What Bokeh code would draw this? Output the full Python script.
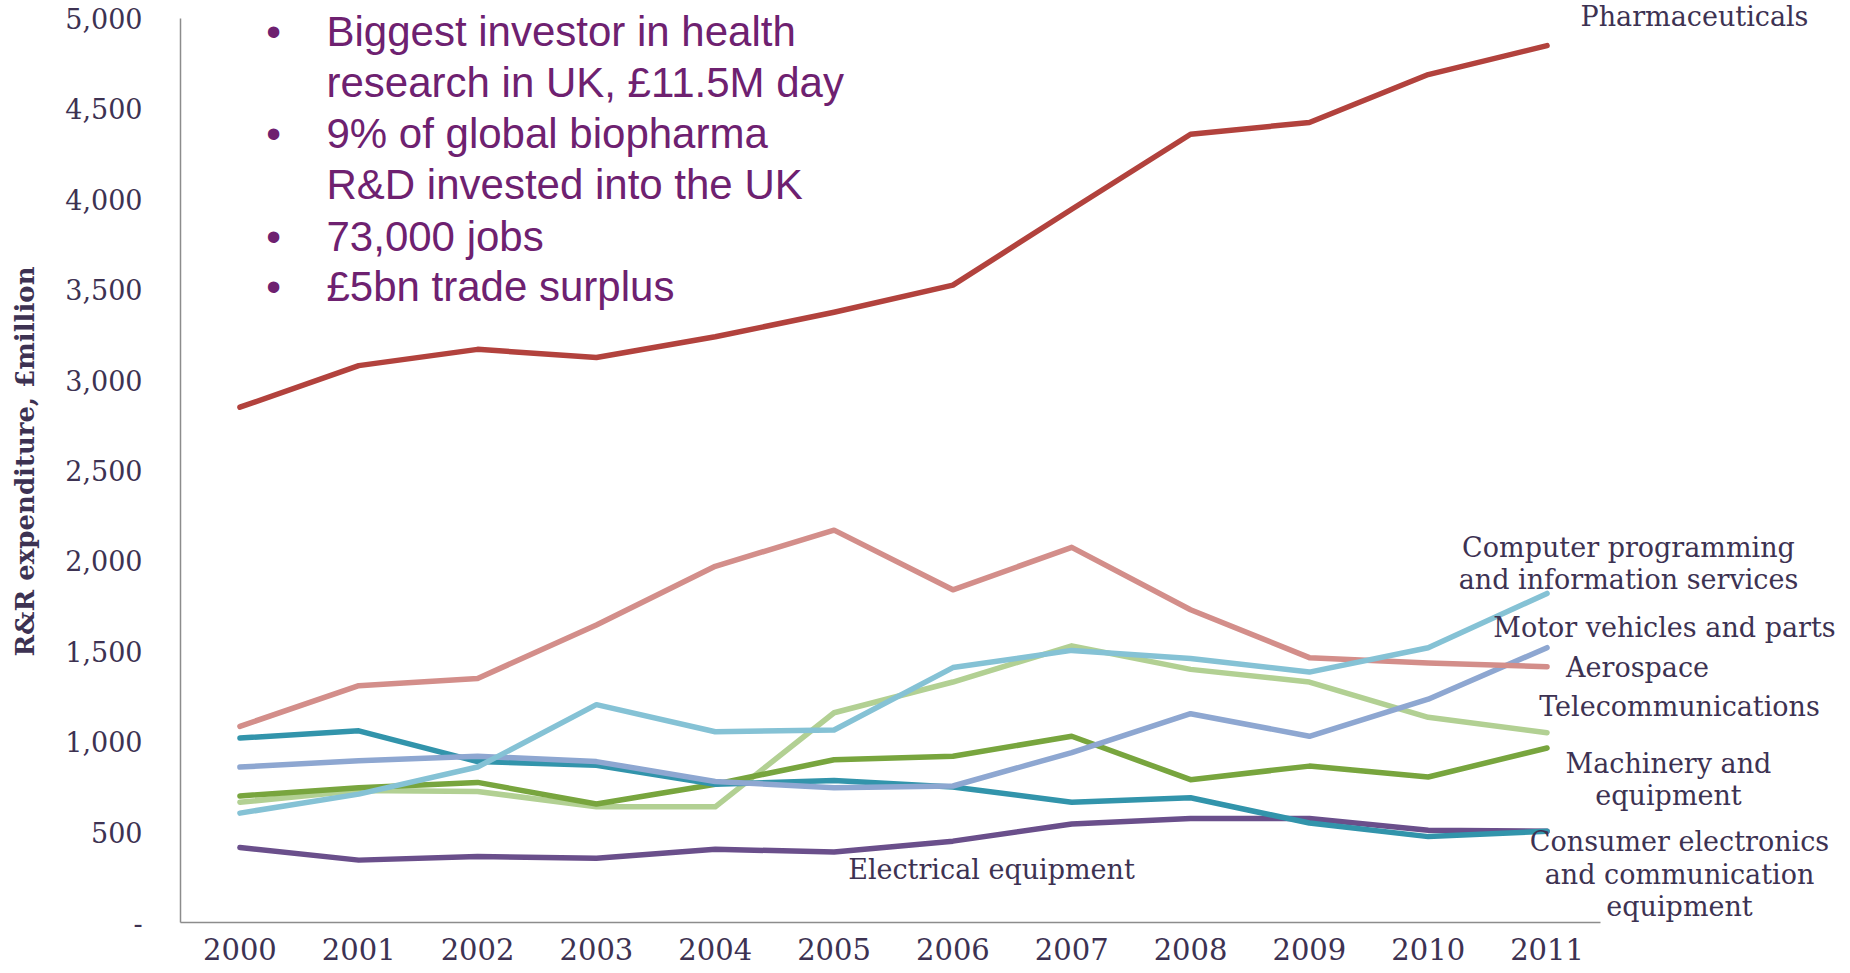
from bokeh.plotting import figure
from bokeh.models import Range1d, FixedTicker, Label
from bokeh.embed import file_html
from bokeh.resources import INLINE

# ---------------- data ----------------
years = list(range(2000, 2012))

pharmaceuticals = [2850, 3080, 3170, 3125, 3240, 3375, 3525, 3945, 4360, 4425, 4690, 4850]
aerospace       = [1085, 1310, 1350, 1645, 1970, 2170, 1840, 2075, 1730, 1465, 1435, 1415]
computer_prog   = [605, 710, 860, 1205, 1055, 1065, 1410, 1505, 1460, 1385, 1520, 1820]
motor_vehicles  = [860, 895, 920, 890, 780, 745, 755, 940, 1155, 1030, 1235, 1520]
telecoms        = [665, 730, 725, 640, 640, 1160, 1330, 1530, 1400, 1330, 1135, 1050]
machinery       = [700, 745, 775, 655, 765, 900, 920, 1030, 790, 865, 805, 965]
consumer_elec   = [1020, 1060, 890, 870, 765, 785, 750, 665, 690, 550, 475, 505]
electrical      = [415, 345, 365, 355, 405, 390, 450, 545, 575, 575, 510, 505]

y_tick_values = [0, 500, 1000, 1500, 2000, 2500, 3000, 3500, 4000, 4500, 5000]
y_tick_labels = ["-", "500", "1,000", "1,500", "2,000", "2,500", "3,000",
                 "3,500", "4,000", "4,500", "5,000"]
x_tick_labels = [str(y) for y in years]

bullet_lines = [
    ("•", "Biggest investor in health"),
    ("", "research in UK, £11.5M day"),
    ("•", "9% of global biopharma"),
    ("", "R&D invested into the UK"),
    ("•", "73,000 jobs"),
    ("•", "£5bn trade surplus"),
]

# ---------------- styles ----------------
LABEL_FONT = "DejaVu Serif"
LABEL_COLOR = "#3d3252"
BULLET_COLOR = "#6e2170"

# layout: frame starts 180px into the figure, 118.83px per year
PX_PER_YEAR = 118.83
FIG_W, FIG_H = 1848, 972
LEFT, BOTTOM = 180, 50
X_START = 1999.5
X_END = X_START + (FIG_W - LEFT) / PX_PER_YEAR
Y_TOP_PX = 18                       # px from frame top to the 5000 line
FRAME_H = FIG_H - BOTTOM
Y_END = 5000 * FRAME_H / (FRAME_H - Y_TOP_PX)

# helpers to convert reference-picture pixel positions into data coords
def px_x(px):
    return X_START + (px - LEFT) / PX_PER_YEAR

def px_y(py):
    return (FRAME_H - py) * Y_END / FRAME_H

p = figure(width=FIG_W, height=FIG_H,
           x_range=Range1d(X_START, X_END), y_range=Range1d(0, Y_END),
           output_backend="svg", toolbar_location=None,
           min_border_left=LEFT, min_border_right=0,
           min_border_top=0, min_border_bottom=BOTTOM)
p.outline_line_color = None
p.grid.visible = False
p.background_fill_color = "white"
p.border_fill_color = "white"

# axes
xa = p.xaxis[0]
xa.ticker = FixedTicker(ticks=years)
xa.major_label_overrides = dict(zip(years, x_tick_labels))
xa.bounds = (X_START, 2011.45)
ya = p.yaxis[0]
ya.ticker = FixedTicker(ticks=y_tick_values)
ya.major_label_overrides = dict(zip(y_tick_values, y_tick_labels))
ya.bounds = (0, 5000)
for ax in (xa, ya):
    ax.major_tick_line_color = None
    ax.minor_tick_line_color = None
    ax.axis_line_color = "#8c8c8c"
    ax.axis_line_width = 1.5
    ax.major_label_text_font = LABEL_FONT
    ax.major_label_text_color = LABEL_COLOR
xa.major_label_text_font_size = "29px"
ya.major_label_text_font_size = "27px"
xa.major_label_standoff = 9
ya.major_label_standoff = 32
ya.axis_label = "R&R expenditure, £million"
ya.axis_label_text_font = LABEL_FONT
ya.axis_label_text_font_style = "bold"
ya.axis_label_text_font_size = "26px"
ya.axis_label_text_color = LABEL_COLOR
ya.axis_label_standoff = 22

# lines (bottom to top)
series = [
    (electrical, "#6a4f8b"),
    (telecoms, "#b2d093"),
    (machinery, "#78a53e"),
    (consumer_elec, "#3294ab"),
    (motor_vehicles, "#8ea7d1"),
    (aerospace, "#d38e8a"),
    (computer_prog, "#85c2d5"),
    (pharmaceuticals, "#b2423d"),
]
for vals, col in series:
    p.line(years, vals, line_color=col, line_width=5.5, line_join="round", line_cap="round")

# series labels
series_labels = [
    ("Pharmaceuticals", 1694, 16),
    ("Computer programming", 1628, 547),
    ("and information services", 1628, 579),
    ("Motor vehicles and parts", 1664, 627),
    ("Aerospace", 1637, 667),
    ("Telecommunications", 1679, 706),
    ("Machinery and", 1668, 763),
    ("equipment", 1668, 795),
    ("Consumer electronics", 1679, 841),
    ("and communication", 1679, 874),
    ("equipment", 1679, 906),
    ("Electrical equipment", 991, 869),
]
for txt, lx, ly in series_labels:
    p.add_layout(Label(x=px_x(lx), y=px_y(ly), text=txt,
                       text_font=LABEL_FONT, text_font_size="27px",
                       text_color=LABEL_COLOR, text_align="center",
                       text_baseline="middle"))

# bullet text
line_ys = [31, 82, 133, 184, 236, 286]
for (b, txt), ly in zip(bullet_lines, line_ys):
    if b:
        p.add_layout(Label(x=px_x(273), y=px_y(ly), text=b,
                           text_font="Liberation Sans", text_font_size="42px",
                           text_color=BULLET_COLOR, text_align="center",
                           text_baseline="middle"))
    p.add_layout(Label(x=px_x(326), y=px_y(ly), text=txt,
                       text_font="Liberation Sans", text_font_size="42px",
                       text_color=BULLET_COLOR, text_align="left",
                       text_baseline="middle"))

open("out.html", "w").write(file_html(p, INLINE))
